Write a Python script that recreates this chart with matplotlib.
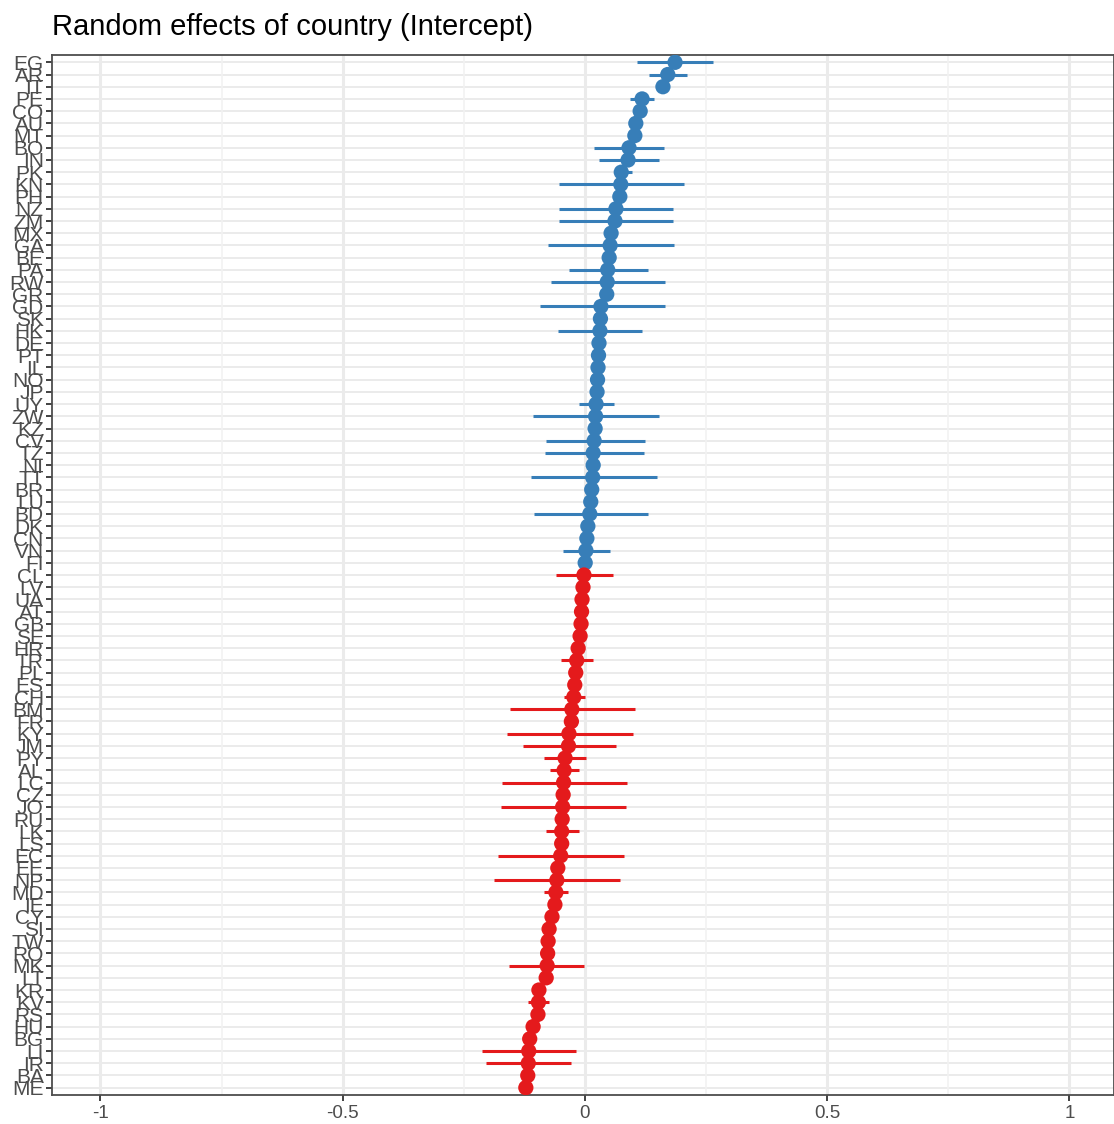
import numpy as np
import matplotlib
matplotlib.use("Agg")
import matplotlib.pyplot as plt

countries = ["EG","AR","IT","PE","CO","AU","MT","BO","IN","PK","KN","PH","NZ","ZM","MX",
             "GA","BE","PA","RW","GR","GD","SK","HK","DE","PT","IL","NO","JP","UY","ZW",
             "KZ","CV","TZ","NI","TT","BR","LU","BD","DK","CN","VN","FI","CL","LV","UA",
             "AT","GB","SE","HR","TR","PL","ES","CH","BM","FR","KY","JM","PY","AL","LC",
             "CZ","JO","RU","LK","LS","EC","EE","NP","MD","IE","CY","SI","TW","RO","MK",
             "LT","KR","KV","RS","HU","BG","LI","IR","BA","ME"]

estimates = [0.186,0.171,0.161,0.118,0.114,0.105,0.103,0.091,0.089,0.075,0.074,0.072,0.064,0.062,0.054,
             0.052,0.050,0.047,0.046,0.045,0.033,0.032,0.031,0.029,0.028,0.027,0.026,0.025,0.023,0.022,
             0.021,0.019,0.017,0.017,0.016,0.014,0.012,0.010,0.006,0.004,0.002,0.0005,-0.002,-0.004,-0.006,
             -0.007,-0.008,-0.010,-0.014,-0.017,-0.019,-0.021,-0.023,-0.027,-0.028,-0.033,-0.034,-0.041,-0.043,-0.044,
             -0.045,-0.046,-0.047,-0.048,-0.048,-0.050,-0.056,-0.058,-0.060,-0.062,-0.068,-0.074,-0.076,-0.077,-0.078,
             -0.080,-0.095,-0.096,-0.097,-0.107,-0.114,-0.116,-0.117,-0.118,-0.122]

nan = np.nan
ci_low = [0.107,0.132,nan,0.093,nan,nan,nan,0.019,0.029,0.062,-0.054,nan,-0.054,-0.054,nan,
          -0.076,nan,-0.033,-0.070,nan,-0.093,nan,-0.056,nan,nan,nan,nan,nan,-0.012,-0.107,
          nan,-0.080,-0.083,nan,-0.111,nan,nan,-0.105,nan,nan,-0.045,nan,-0.060,nan,nan,
          nan,nan,nan,nan,-0.050,nan,nan,-0.043,-0.155,nan,-0.161,-0.128,-0.085,-0.072,-0.171,
          nan,-0.173,nan,-0.080,nan,-0.180,nan,-0.188,-0.085,nan,nan,nan,nan,nan,-0.157,
          nan,nan,-0.118,nan,nan,nan,-0.213,-0.204,nan,nan]

ci_high = [0.264,0.211,nan,0.142,nan,nan,nan,0.163,0.153,0.097,0.204,nan,0.182,0.182,nan,
           0.184,nan,0.130,0.165,nan,0.165,nan,0.118,nan,nan,nan,nan,nan,0.060,0.153,
           nan,0.124,0.122,nan,0.149,nan,nan,0.130,nan,nan,0.052,nan,0.058,nan,nan,
           nan,nan,nan,nan,0.017,nan,nan,0.000,0.103,nan,0.099,0.064,0.002,-0.012,0.087,
           nan,0.085,nan,-0.012,nan,0.080,nan,0.072,-0.035,nan,nan,nan,nan,nan,-0.002,
           nan,nan,-0.074,nan,nan,nan,-0.019,-0.029,nan,nan]

x_ticks = [-1, -0.5, 0, 0.5, 1]
x_tick_labels = ["-1", "-0.5", "0", "0.5", "1"]
title = "Random effects of country (Intercept)"

BLUE = "#377EB8"
RED = "#E41A1C"

plt.rcParams['font.family'] = ['Liberation Sans', 'DejaVu Sans']

fig = plt.figure(figsize=(11.14, 11.24), dpi=100)
ax = fig.add_axes([52/1114, 1 - 1095/1124, 1 - 52/1114, 1040/1124])

n = len(countries)
ypos = np.arange(n, 0, -1)
est = np.array(estimates)
lo = np.array(ci_low)
hi = np.array(ci_high)
colors = [BLUE if v > 0 else RED for v in est]

# grid
for y in ypos:
    ax.axhline(y, color="#EBEBEB", lw=1.4, zorder=0)
for xv in [-1, -0.5, 0, 0.5, 1]:
    ax.axvline(xv, color="#EBEBEB", lw=2.2, zorder=0)
for xv in [-0.75, -0.25, 0.25, 0.75]:
    ax.axvline(xv, color="#F2F2F2", lw=1.2, zorder=0)

mask = ~np.isnan(lo)
ax.hlines(ypos[mask], lo[mask], hi[mask], colors=np.array(colors)[mask], lw=2.2, zorder=2)
ax.scatter(est, ypos, s=11**2, c=colors, zorder=3, linewidths=0)

ax.set_xlim(-1.1, 1.092)
ax.set_ylim(0.4, n + 0.6)
ax.set_yticks(ypos)
ax.set_yticklabels(countries)
ax.set_xticks(x_ticks)
ax.set_xticklabels(x_tick_labels)
ax.tick_params(axis='both', colors="#333333", length=4, width=1.3, labelcolor="#4D4D4D")
ax.tick_params(axis='y', labelsize=15, pad=2)
ax.tick_params(axis='x', labelsize=13.5, pad=3)

for s in ax.spines.values():
    s.set_color("#4D4D4D")
    s.set_linewidth(1.3)

fig.text(52/1114, 1 - 27/1124, title, fontsize=21, color="black", va="center", ha="left")

fig.savefig("out.png", dpi=100)
